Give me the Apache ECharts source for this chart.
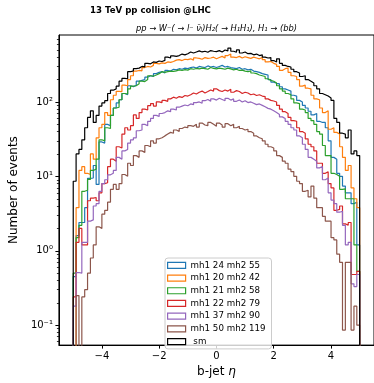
<!DOCTYPE html>
<html>
<head>
<meta charset="utf-8">
<script src="https://cdn.jsdelivr.net/npm/echarts@6/dist/echarts.min.js"></script>
<style>html,body{margin:0;padding:0;background:#fff;}#c{width:374px;height:383px;}</style>
</head>
<body>
<div id="c"></div>
<script>
// ---- data (bins of width 0.1 from -5 to 5) ----
const binStart = -5;
const binWidth = 0.1;
const seriesNames = ['mh1 24 mh2 55', 'mh1 20 mh2 42', 'mh1 21 mh2 58', 'mh1 22 mh2 79', 'mh1 37 mh2 90', 'mh1 50 mh2 119', ' sm'];
const seriesColors = ['#1f77b4', '#ff7f0e', '#2ca02c', '#d62728', '#9467bd', '#8c564b', '#000000'];
const xTicks = [-4, -2, 0, 2, 4];
const yTicks = [0.1, 1, 10, 100];
const yMinorTicks = [0.06, 0.07, 0.08, 0.09, 0.2, 0.3, 0.4, 0.5, 0.6, 0.7, 0.8, 0.9, 2, 3, 4, 5, 6, 7, 8, 9, 20, 30, 40, 50, 60, 70, 80, 90, 200, 300, 400, 500, 600, 700];

const blueVals = [0.45,1.6,2.4,2.4,3.8,9.4,9.5,14,7.8,29,28,50,48,66,83,97,107,130,125,165,160,168,190,195,200,215,225,220,240,250,255,245,265,260,275,270,280,275,285,280,290,295,285,300,295,290,305,295,300,290,300,310,295,300,290,285,280,290,275,280,270,275,260,255,250,240,235,230,200,185,178,175,160,150,145,140,123,120,105,100,90,83,75,67,70,55,53,53,45,30,18,17,11,10,7.4,6,6,4.3,4.5,1.2];
const orangeVals = [0,3.8,12,13.5,11,10.6,20,17,33,45,50,72,66,107,123,139,138,168,165,200,225,260,265,262,290,300,295,310,330,325,335,330,345,340,350,365,370,360,375,370,380,365,390,385,375,395,385,390,400,380,395,410,390,420,440,400,395,410,390,405,395,385,400,390,380,395,370,345,350,330,320,300,265,280,285,250,225,220,200,163,168,153,150,123,110,107,83,72,76,43,45,39,37,25,18,12,14,7,5,3.8];
const greenVals = [0.5,1.5,2.2,6.3,6.5,9.1,12,12.5,17,31,30,45,44,66,83,85,107,130,128,150,163,165,175,190,188,200,225,222,230,240,255,250,255,260,258,262,270,265,272,268,280,275,282,278,285,280,275,290,282,278,285,280,275,285,278,270,275,265,268,260,255,262,245,240,230,225,220,205,195,190,180,165,150,140,130,125,110,97,95,80,78,72,60,56,50,40,37,26,19,19,11,10.6,10,6.7,6.8,5,5,5,1.2,0.53];
const redVals = [0.24,1.3,2,1.2,1.2,4.7,5.1,5.2,4.7,6,8,8.2,13.5,17,16,25,24,37,45,42,48,67,60,72,80,78,89,95,88,100,98,105,102,110,116,112,118,115,122,120,125,132,128,135,140,132,138,145,140,150,142,138,145,140,148,135,142,138,130,135,132,125,128,122,125,120,118,110,105,103,100,90,80,74,70,62,56,55,45,40,38,32,27,25,22,15,15,11,11.5,8,7,3.5,3.6,4,2.3,2.2,2.4,0.48,0.48,0.53];
const purpleVals = [0.18,0.51,0.5,1.3,1.3,2.5,2.6,4,4.3,6.3,8,9,10.5,11,12,18,17,22,23,28,31,33,41,42,50,48,55,60,66,64,70,72,76,74,80,78,85,88,91,89,94,92,98,100,96,104,108,102,110,106,112,108,104,112,106,110,102,106,100,104,98,100,96,92,94,90,86,82,80,76,72,68,63,60,55,50,45,42,35,33,27,23,18,17,16,13,13.5,9,9.5,6,4.8,4.3,3.3,3.4,2.2,1.2,1.3,0.36,0.33,0.48];
const brownVals = [0,0.25,0,0.24,0.3,0.5,0.8,1.2,2.1,2,3.1,3.5,4.5,6.7,7.8,6.7,8,10.6,10,15,14,19,18,22,21,26,25,30,28,32,33,35,37,39,38,42,40,44,46,45,48,47,50,46,52,49,48,53,50,47,52,49,46,51,48,50,45,47,44,42,43,40,38,35,33,32,30,27,25,24,22,19,18,16,15,12.5,11.6,10,8.6,8,6.3,6.5,5.3,7.4,5.1,3.8,3.8,2.9,2.5,2.5,1.5,1.4,0.9,0.7,0.086,0.7,0.7,0.086,0.18,0.1];
const smVals = [8.6,20,23,31,45,62,76,53,66,88,97,104,130,144,150,163,190,207,205,255,262,280,285,300,296,330,325,345,340,355,350,362,400,390,415,410,420,440,430,445,470,455,470,485,470,480,465,490,480,475,490,470,500,485,530,480,465,500,455,470,445,450,430,440,420,430,400,390,395,360,345,380,330,310,300,295,275,255,245,220,225,200,190,180,165,150,130,125,120,113,105,60,53,38,37,33,42,20,22,19];

const allVals = [blueVals, orangeVals, greenVals, redVals, purpleVals, brownVals, smVals];

const Y_MIN = 0.054, Y_MAX = 794;
const FLOOR = 1e-4;

function stepData(vals) {
  const pts = [[binStart, FLOOR]];
  for (let i = 0; i < vals.length; i++) {
    const x = +(binStart + i * binWidth).toFixed(4);
    pts.push([x, vals[i] > 0 ? vals[i] : FLOOR]);
  }
  const xEnd = +(binStart + vals.length * binWidth).toFixed(4);
  const last = vals[vals.length - 1];
  pts.push([xEnd, last > 0 ? last : FLOOR]);
  pts.push([xEnd, FLOOR]);
  return pts;
}

const supMap = {'-':'\u207B','0':'\u2070','1':'\u00B9','2':'\u00B2','3':'\u00B3'};
function powLabel(v) {
  const e = Math.round(Math.log10(v));
  return '10' + String(e).split('').map(c => supMap[c] || c).join('');
}

const FONT = 'DejaVu Sans';
const chart = echarts.init(document.getElementById('c'), null, {renderer: 'canvas'});
const option = {
  animation: false,
  backgroundColor: '#ffffff',
  textStyle: {fontFamily: FONT, color: '#000'},
  title: [
    {text: '13 TeV pp collision @LHC', left: 90, top: 6, padding: 0,
     textStyle: {fontFamily: FONT, fontWeight: 'bold', fontSize: 8.6, color: '#000'}},
    {text: 'pp \u2192 W\u207B( \u2192 l\u207B \u03BD\u0304\u2097)H\u2082( \u2192 H\u2081H\u2081), H\u2081 \u2192 (bb)',
     left: 216.5, textAlign: 'center', top: 24.5, padding: 0,
     textStyle: {fontFamily: FONT, fontStyle: 'italic', fontWeight: 'normal', fontSize: 8.3, color: '#000'}}
  ],
  grid: {left: 57, right: -2, top: 35, bottom: 30, show: true, borderColor: '#000', borderWidth: 1, backgroundColor: 'transparent'},
  legend: {
    orient: 'vertical', left: 165, top: 258,
    itemWidth: 18, itemHeight: 6, itemGap: 0,
    padding: [1, 6, 1, 2],
    backgroundColor: 'rgba(255,255,255,0.8)', borderColor: '#cccccc', borderWidth: 1, borderRadius: 3,
    selectedMode: false,
    textStyle: {fontFamily: FONT, fontSize: 8.7, color: '#000', lineHeight: 12.7},
    data: seriesNames.map((n, i) => ({name: n, icon: 'rect',
      itemStyle: {color: 'rgba(0,0,0,0)', borderColor: seriesColors[i], borderWidth: 1.2}}))
  },
  xAxis: {
    type: 'value', min: -5.5, max: 5.5,
    name: 'b-jet {i|\u03B7}', nameLocation: 'middle', nameGap: 13,
    nameTextStyle: {fontFamily: FONT, fontSize: 12, color: '#000', rich: {i: {fontFamily: FONT, fontSize: 12, fontStyle: 'italic'}}},
    axisLine: {show: true, onZero: false, lineStyle: {color: '#000', width: 1}},
    axisTick: {show: true, customValues: xTicks, length: 3.5, lineStyle: {color: '#000', width: 1}},
    axisLabel: {customValues: xTicks, margin: 6, fontFamily: FONT, fontSize: 10, color: '#000',
      formatter: v => (v < 0 ? '\u2212' + Math.abs(v) : String(v))},
    splitLine: {show: false}
  },
  yAxis: [
    {
      type: 'log', logBase: 10, min: Y_MIN, max: Y_MAX, position: 'left',
      name: 'Number of events', nameLocation: 'middle', nameGap: 37,
      nameTextStyle: {fontFamily: FONT, fontSize: 12, color: '#000'},
      axisLine: {show: true, onZero: false, lineStyle: {color: '#000', width: 1}},
      axisTick: {show: true, customValues: yTicks, length: 3.5, lineStyle: {color: '#000', width: 1}},
      axisLabel: {customValues: yTicks, margin: 6, fontFamily: FONT, fontSize: 10, color: '#000', formatter: v => powLabel(v)},
      splitLine: {show: false}
    },
    {
      type: 'log', logBase: 10, min: Y_MIN, max: Y_MAX, position: 'left', offset: 0,
      axisLine: {show: false, onZero: false},
      axisTick: {show: true, customValues: yMinorTicks, length: 2, lineStyle: {color: '#000', width: 0.8}},
      axisLabel: {show: false},
      splitLine: {show: false}
    }
  ],
  series: seriesNames.map((n, i) => ({
    name: n, type: 'line', step: 'end', yAxisIndex: 0,
    symbol: 'none', showSymbol: false, clip: true,
    lineStyle: {color: seriesColors[i], width: 1.2},
    itemStyle: {color: seriesColors[i]},
    data: stepData(allVals[i])
  }))
};
chart.setOption(option);
</script>
</body>
</html>
